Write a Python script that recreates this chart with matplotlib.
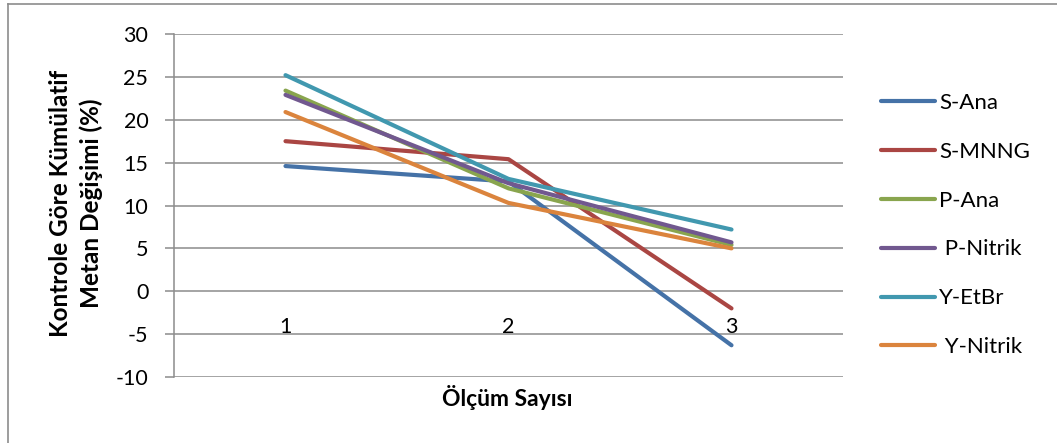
import matplotlib
matplotlib.use('Agg')
from matplotlib import pyplot as plt
from matplotlib.lines import Line2D

plt.rcParams['font.family'] = ['Lato', 'DejaVu Sans']
plt.rcParams['axes.unicode_minus'] = False

categories = ['1', '2', '3']
series_names = ['S-Ana', 'S-MNNG', 'P-Ana', ' P-Nitrik', 'Y-EtBr', ' Y-Nitrik']
s_ana = [14.6, 12.8, -6.3]
s_mnng = [17.5, 15.4, -2.0]
p_ana = [23.4, 12.0, 5.4]
p_nitrik = [22.9, 12.6, 5.7]
y_etbr = [25.2, 13.1, 7.2]
y_nitrik = [20.9, 10.3, 5.0]
series_values = [s_ana, s_mnng, p_ana, p_nitrik, y_etbr, y_nitrik]
colors = ['#4572A7', '#AA4643', '#89A54E', '#71588F', '#4198AF', '#DB843D']
yticks = [-10, -5, 0, 5, 10, 15, 20, 25, 30]

W, H = 1057, 443
fig = plt.figure(figsize=(W / 100, H / 100), dpi=100)
ax = fig.add_axes([174 / W, 1 - 377 / H, 669 / W, 343 / H])

xs = [1, 2, 3]
for name, vals, c in zip(series_names, series_values, colors):
    ax.plot(xs, vals, color=c, lw=3.0, solid_capstyle='round', label=name)

ax.set_xlim(0.5, 3.5)
ax.set_ylim(-10, 30)
ax.set_yticks(yticks)
ax.yaxis.grid(True, color='#8c8c8c', lw=1.1)
ax.set_axisbelow(True)
ax.set_xticks([])
for s in ['top', 'right', 'bottom']:
    ax.spines[s].set_visible(False)
ax.spines['left'].set_color('#8c8c8c')
ax.spines['left'].set_linewidth(1.1)
ax.tick_params(axis='y', length=6.5, width=1.1, color='#8c8c8c', pad=12, labelsize=15.5)

# category labels sit below the zero line
for x, lab in zip(xs, categories):
    ax.annotate(lab, (x, 0), xytext=(0, -18.5), textcoords='offset points',
                ha='center', va='top', fontsize=15.5)

fig.text(507 / W, 1 - 398 / H, 'Ölçüm Sayısı', ha='center', va='center',
         fontsize=16.5, fontweight='bold')
fig.text(76 / W, 1 - 203 / H, 'Kontrole Göre Kümülatif\nMetan Değişimi (%)',
         rotation=90, ha='center', va='center', multialignment='center',
         fontsize=17.5, fontweight='bold', linespacing=1.4)

handles = [Line2D([0], [0], color=c, lw=3.0, solid_capstyle='round') for c in colors]
fig.legend(handles, series_names, loc='center left', bbox_to_anchor=(881 / W, 1 - 225 / H),
           frameon=False, fontsize=16, handlelength=2.44, handletextpad=0.18,
           labelspacing=1.3, borderpad=0, borderaxespad=0)

# outer chart frame
fig.add_artist(Line2D([8 / W, 1], [1 - 4 / H, 1 - 4 / H], color='#8c8c8c', lw=1.2))
fig.add_artist(Line2D([8 / W, 8 / W], [0, 1 - 4 / H], color='#8c8c8c', lw=1.2))

plt.savefig('out.png', dpi=100)
